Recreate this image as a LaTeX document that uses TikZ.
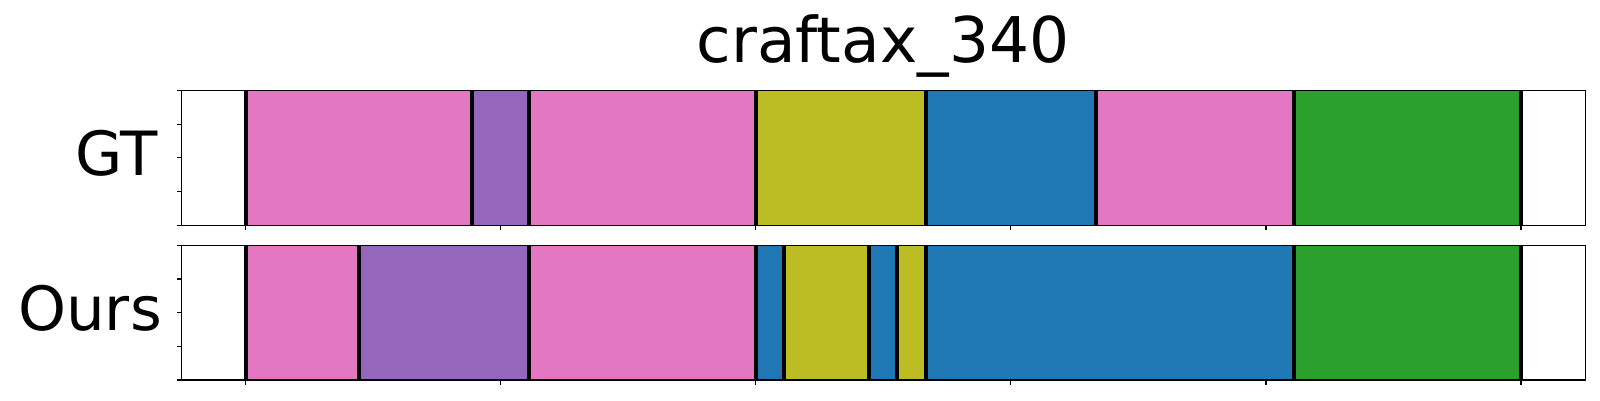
\documentclass[tikz,border=0pt]{standalone}
\usepackage{fontspec}
\setmainfont{DejaVu Sans}
\definecolor{tabpink}{HTML}{E377C2}
\definecolor{tabpurple}{HTML}{9467BD}
\definecolor{tabolive}{HTML}{BCBD22}
\definecolor{tabblue}{HTML}{1F77B4}
\definecolor{tabgreen}{HTML}{2CA02C}
\tikzset{
  bound/.style={black, line width=4pt},
  spine/.style={black, line width=1.1pt},
  tick/.style={black, line width=1.1pt},
  lab/.style={inner sep=0pt, font=\fontsize{61}{70}\selectfont},
  ttl/.style={inner sep=0pt, font=\fontsize{63}{72}\selectfont},
}
\begin{document}
\begin{tikzpicture}[x=1pt,y=-1pt]
\useasboundingbox[fill=white] (0,0) rectangle (1600,400);
% GT panel
\foreach \a/\b/\c in {245.7/472/tabpink, 472/529/tabpurple, 529/756/tabpink, 756/925.7/tabolive, 925.7/1096/tabblue, 1096/1293.7/tabpink, 1293.7/1521/tabgreen}
  {\fill[\c] (\a,90.3) rectangle (\b,225.3);}
\foreach \x in {245.7,472,529,756,925.7,1096,1293.7,1521}
  {\draw[bound] (\x,90.3) -- (\x,225.3);}
\draw[spine] (181.3,90.3) rectangle (1585.7,225.3);
\foreach \y in {90.3,124.05,157.8,191.55,225.3}
  {\draw[tick] (181.3,\y) -- ++(-4.7,0);}
\foreach \k in {0,...,5}
  {\draw[tick] (245.7+\k*255.06,225.3) -- ++(0,4.7);}
% Ours panel
\foreach \a/\b/\c in {245.7/359/tabpink, 359/529/tabpurple, 529/756/tabpink, 756/784/tabblue, 784/869/tabolive, 869/897/tabblue, 897/925.7/tabolive, 925.7/1293.7/tabblue, 1293.7/1521/tabgreen}
  {\fill[\c] (\a,245.3) rectangle (\b,380);}
\foreach \x in {245.7,359,529,756,784,869,897,925.7,1293.7,1521}
  {\draw[bound] (\x,245.3) -- (\x,380);}
\draw[spine] (181.3,245.3) rectangle (1585.7,380);
\foreach \y in {245.3,278.975,312.65,346.325,380}
  {\draw[tick] (181.3,\y) -- ++(-4.7,0);}
\foreach \k in {0,...,5}
  {\draw[tick] (245.7+\k*255.06,380) -- ++(0,4.7);}
% labels
\node[lab, anchor=base east] (gt) at (158,175) {GT};
\node[lab, anchor=base east] (ours) at (162,330) {Ours};
\node[ttl, anchor=base] (title) at (883,62) {craftax\_340};
\end{tikzpicture}
\end{document}
